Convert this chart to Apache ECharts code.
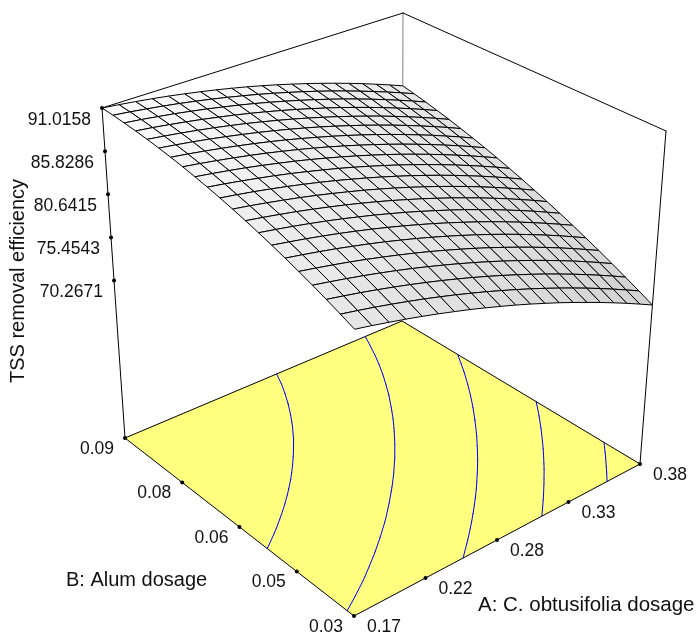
<!DOCTYPE html>
<html><head><meta charset="utf-8"><style>html,body{margin:0;padding:0;background:#fff}#c{width:699px;height:639px}</style>
<script src="https://cdn.jsdelivr.net/npm/echarts@6/dist/echarts.min.js"></script></head><body><div id="c"></div>
<script>
const boxZ=[49.5,91.0158];
const zAxisTicks=[91.0158,85.8286,80.6415,75.4543,70.2671];
const bTickLabels=['0.09','0.08','0.06','0.05','0.03'];
const aTickLabels=['0.17','0.22','0.28','0.33','0.38'];
const contourLevels=[87.45,83.75,79.9,76.3,72.5];
// Surface heights: one row per A step (0.17 to 0.38), one value per B step (0.03 to 0.09)
const zRow00=[83.40,84.07,84.72,85.33,85.91,86.46,86.98,87.47,87.93,88.36,88.75,89.12,89.45,89.76,90.03,90.27,90.48,90.66,90.81,90.93,91.02];
const zRow01=[82.98,83.66,84.31,84.93,85.52,86.08,86.61,87.11,87.58,88.02,88.42,88.80,89.14,89.46,89.74,89.99,90.21,90.41,90.57,90.70,90.79];
const zRow02=[82.53,83.23,83.89,84.51,85.11,85.68,86.22,86.73,87.20,87.65,88.07,88.45,88.81,89.13,89.42,89.69,89.92,90.12,90.29,90.43,90.54];
const zRow03=[82.06,82.76,83.43,84.07,84.68,85.26,85.80,86.32,86.81,87.26,87.69,88.08,88.45,88.78,89.08,89.36,89.60,89.81,90.00,90.15,90.27];
const zRow04=[81.57,82.28,82.95,83.60,84.22,84.80,85.36,85.89,86.38,86.85,87.28,87.69,88.06,88.41,88.72,89.00,89.26,89.48,89.67,89.84,89.97];
const zRow05=[81.05,81.77,82.45,83.11,83.73,84.33,84.89,85.43,85.93,86.41,86.85,87.27,87.65,88.01,88.33,88.62,88.89,89.12,89.33,89.50,89.64];
const zRow06=[80.50,81.23,81.92,82.59,83.22,83.83,84.40,84.94,85.46,85.94,86.40,86.82,87.22,87.58,87.92,88.22,88.50,88.74,88.95,89.14,89.29];
const zRow07=[79.94,80.67,81.37,82.04,82.69,83.30,83.88,84.44,84.96,85.45,85.92,86.35,86.76,87.13,87.48,87.79,88.08,88.33,88.56,88.75,88.92];
const zRow08=[79.34,80.08,80.79,81.47,82.13,82.75,83.34,83.90,84.44,84.94,85.41,85.86,86.27,86.66,87.01,87.34,87.63,87.90,88.14,88.34,88.52];
const zRow09=[78.72,79.47,80.19,80.88,81.54,82.17,82.77,83.35,83.89,84.40,84.88,85.34,85.76,86.16,86.52,86.86,87.17,87.44,87.69,87.91,88.10];
const zRow10=[78.08,78.83,79.56,80.26,80.93,81.57,82.18,82.76,83.31,83.84,84.33,84.79,85.23,85.63,86.01,86.36,86.67,86.96,87.22,87.45,87.65];
const zRow11=[77.41,78.17,78.91,79.62,80.30,80.94,81.56,82.15,82.72,83.25,83.75,84.22,84.67,85.08,85.47,85.83,86.15,86.45,86.72,86.96,87.17];
const zRow12=[76.71,77.49,78.23,78.95,79.64,80.29,80.92,81.52,82.09,82.63,83.15,83.63,84.09,84.51,84.91,85.27,85.61,85.92,86.20,86.45,86.67];
const zRow13=[76.00,76.78,77.53,78.26,78.95,79.62,80.26,80.87,81.45,82.00,82.52,83.01,83.48,83.91,84.32,84.70,85.04,85.37,85.66,85.92,86.15];
const zRow14=[75.25,76.04,76.81,77.54,78.24,78.92,79.57,80.18,80.77,81.33,81.87,82.37,82.84,83.29,83.71,84.09,84.45,84.78,85.09,85.36,85.60];
const zRow15=[74.48,75.28,76.05,76.80,77.51,78.19,78.85,79.48,80.08,80.65,81.19,81.70,82.18,82.64,83.07,83.47,83.84,84.18,84.49,84.77,85.03];
const zRow16=[73.69,74.50,75.28,76.03,76.75,77.44,78.11,78.74,79.35,79.93,80.48,81.01,81.50,81.97,82.40,82.81,83.19,83.55,83.87,84.16,84.43];
const zRow17=[72.87,73.69,74.48,75.24,75.97,76.67,77.34,77.99,78.61,79.19,79.76,80.29,80.79,81.27,81.72,82.14,82.53,82.89,83.22,83.53,83.81];
const zRow18=[72.03,72.85,73.65,74.42,75.16,75.87,76.55,77.21,77.83,78.43,79.00,79.55,80.06,80.55,81.00,81.43,81.84,82.21,82.55,82.87,83.16];
const zRow19=[71.16,71.99,72.80,73.58,74.32,75.04,75.74,76.40,77.04,77.64,78.23,78.78,79.30,79.80,80.27,80.71,81.12,81.50,81.86,82.19,82.49];
const zRow20=[70.27,71.11,71.92,72.71,73.47,74.19,74.90,75.57,76.21,76.83,77.42,77.98,78.52,79.03,79.50,79.95,80.38,80.77,81.14,81.48,81.79];
const zSurface=[zRow00,zRow01,zRow02,zRow03,zRow04,zRow05,zRow06,zRow07,zRow08,zRow09,zRow10,zRow11,zRow12,zRow13,zRow14,zRow15,zRow16,zRow17,zRow18,zRow19,zRow20];

// Camera: maps normalised A, B, height to the axes' plane
function proj(u,v,s){
 const W=1+.1281*u+.1426*v-.0986*s;
 const X=354+367.98*u-211.175*v+s*(-34.22-2.11*u-2.11*v);
 const Y=616-92.56*u-115.54*v+s*(-383.64-4.96*u-4.06*v);
 return [X/W,Y/W];
}
const sOf=z=>(z-boxZ[0])/(boxZ[1]-boxZ[0]);
const lerp=(p,q,t)=>[p[0]+(q[0]-p[0])*t,p[1]+(q[1]-p[1])*t];
const n=zSurface.length-1;
const cells=[];for(let i=n-1;i>=0;i--)for(let j=n-1;j>=0;j--)cells.push([i,j]);
function poly(api,pts){return pts.map(p=>api.coord(p));}
function txt(api,p,t,align,size,rot){const c=api.coord(p);return {type:'text',x:c[0],y:c[1],rotation:rot||0,style:{text:t,fill:'#111',font:(size||17.5)+'px "Liberation Sans",Arial,sans-serif',align:align,verticalAlign:'middle'}};}
const base={type:'custom',coordinateSystem:'cartesian2d',clip:false,silent:true,animation:false};
const F00=proj(0,0,0),F10=proj(1,0,0),F01=proj(0,1,0),F11=proj(1,1,0),T01=proj(0,1,1),T10=proj(1,0,1),T11=proj(1,1,1);
function seg(api,a,b,col,w){const p=api.coord(a),q=api.coord(b);return {type:'line',shape:{x1:p[0],y1:p[1],x2:q[0],y2:q[1]},style:{stroke:col,lineWidth:w||1,lineCap:'round'}};}
function contourSegs(level){
 const out=[];
 for(let i=0;i<n;i++)for(let j=0;j<n;j++){
  const c=[[i,j],[i+1,j],[i+1,j+1],[i,j+1]];const pts=[];
  for(let k=0;k<4;k++){const a=c[k],b=c[(k+1)%4];const za=zSurface[a[0]][a[1]],zb=zSurface[b[0]][b[1]];
   if((za>=level)!==(zb>=level)){const t=(level-za)/(zb-za);pts.push(proj((a[0]+(b[0]-a[0])*t)/n,(a[1]+(b[1]-a[1])*t)/n,0));}}
  if(pts.length>=2)out.push([pts[0],pts[1]]);
 }
 return out;
}
const option={animation:false,
 grid:{left:0,right:0,top:0,bottom:0},
 xAxis:{type:'value',min:0,max:699,show:false},
 yAxis:{type:'value',min:0,max:639,inverse:true,show:false},
 series:[
 {...base,name:'back wall',z:1,data:[0],renderItem:(p,api)=>({type:'group',children:[
   seg(api,T11,F11,'#808080',1),seg(api,T01,T11,'#000',1),seg(api,T11,T10,'#000',1),seg(api,T01,F01,'#000',1),seg(api,T10,F10,'#000',1)]})},
 {...base,name:'floor',z:2,data:[0],renderItem:(p,api)=>({type:'polygon',shape:{points:poly(api,[F00,F10,F11,F01])},style:{fill:'#ffff80',stroke:'#000',lineWidth:1,lineJoin:'round'}})},
 {...base,name:'contours',z:3,data:contourLevels,renderItem:(p,api)=>{const lv=contourLevels[p.dataIndex];return {type:'group',children:contourSegs(lv).map(s=>seg(api,s[0],s[1],'#0000ff',1))};}},
 {...base,name:'surface',z:4,data:cells.map((c,k)=>k),renderItem:(p,api)=>{const [i,j]=cells[p.dataIndex];
   const q=(a,b)=>proj(a/n,b/n,sOf(zSurface[a][b]));
   const u=(i+.5)/n,v=(j+.5)/n,g=Math.round(253-20*u-23*(1-v));
   return {type:'polygon',shape:{points:poly(api,[q(i,j),q(i+1,j),q(i+1,j+1),q(i,j+1)])},style:{fill:`rgb(${g},${g},${g})`,stroke:'#000',lineWidth:1,lineJoin:'round'}};}},
 {...base,name:'ticks',z:5,data:[0],renderItem:(p,api)=>{const ch=[];const dot=a=>{const c=api.coord(a);ch.push({type:'circle',shape:{cx:c[0],cy:c[1],r:2},style:{fill:'#000'}});};
   zAxisTicks.forEach(z=>{const a=lerp(T01,F01,(zAxisTicks[0]-z)/(zAxisTicks[0]-zAxisTicks[4])*0.523);dot(a);ch.push(txt(api,[a[0]-11,a[1]+12],z.toFixed(4),'right'));});
   bTickLabels.forEach((t,k)=>{const a=lerp(F01,F00,k/4);dot(a);ch.push(txt(api,[a[0]-11,a[1]+11],t,'right'));});
   aTickLabels.forEach((t,k)=>{const a=lerp(F00,F10,k/4);if(k)dot(a);ch.push(txt(api,[a[0]+13,a[1]+11],t,'left'));});
   ch.push(txt(api,[66,580],'B: Alum dosage','left',20));
   ch.push(txt(api,[478,605],'A: C. obtusifolia dosage','left',20.5));
   ch.push(txt(api,[18,281],'TSS removal efficiency','center',20,Math.PI/2));
   return {type:'group',children:ch};}}
 ]};
echarts.init(document.getElementById('c'),null,{renderer:'canvas'}).setOption(option);
</script></body></html>
